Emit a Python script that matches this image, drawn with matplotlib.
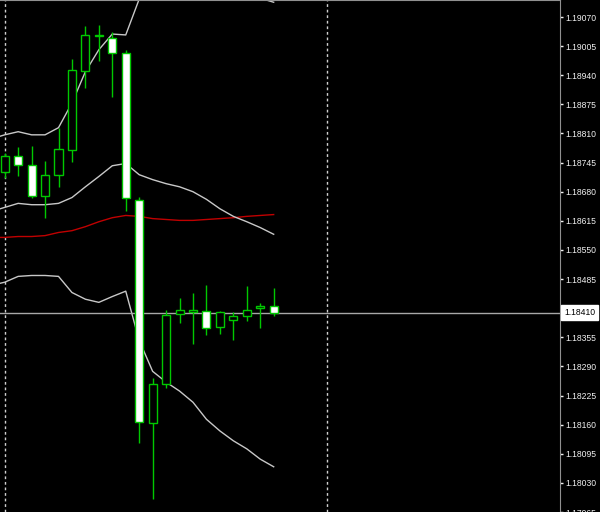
import matplotlib
matplotlib.use("Agg")
import matplotlib.pyplot as plt
from matplotlib.patches import Rectangle
import numpy as np

# ---- data (EURUSD-like hourly candles) ----
opens  = [1.18723, 1.18760, 1.18740, 1.18671, 1.18718, 1.18774, 1.18950, 1.19028, 1.19023, 1.18990,
          1.18662, 1.18164, 1.18250, 1.18406, 1.18411, 1.18413, 1.18377, 1.18393, 1.18402, 1.18420, 1.18424]
highs  = [1.18767, 1.18780, 1.18783, 1.18749, 1.18823, 1.18976, 1.19050, 1.19052, 1.19037, 1.18997,
          1.18669, 1.18264, 1.18417, 1.18442, 1.18453, 1.18471, 1.18413, 1.18411, 1.18469, 1.18431, 1.18466]
lows   = [1.18711, 1.18714, 1.18665, 1.18622, 1.18691, 1.18747, 1.18912, 1.18972, 1.18892, 1.18638,
          1.18119, 1.17994, 1.18242, 1.18386, 1.18340, 1.18360, 1.18362, 1.18348, 1.18391, 1.18375, 1.18402]
closes = [1.18760, 1.18740, 1.18671, 1.18718, 1.18776, 1.18952, 1.19030, 1.19030, 1.18990, 1.18665,
          1.18166, 1.18250, 1.18404, 1.18415, 1.18415, 1.18375, 1.18411, 1.18402, 1.18417, 1.18424, 1.18410]

# indicator values start one bar before the first visible candle (index -1)
bb_upper = [1.18798, 1.18807, 1.18814, 1.18807, 1.18807, 1.18823, 1.18878, 1.18948, 1.18997, 1.19032, 1.19030,
            1.19110, 1.19143, 1.19137, 1.19148, 1.19150, 1.19152, 1.19139, 1.19126, 1.19121, 1.19112, 1.19103]
bb_middle = [1.18636, 1.18645, 1.18654, 1.18651, 1.18651, 1.18654, 1.18667, 1.18691, 1.18714, 1.18738, 1.18743,
             1.18718, 1.18707, 1.18698, 1.18691, 1.18680, 1.18663, 1.18642, 1.18625, 1.18613, 1.18600, 1.18585]
bb_lower = [1.18471, 1.18478, 1.18491, 1.18493, 1.18493, 1.18491, 1.18455, 1.18440, 1.18433, 1.18446, 1.18458,
            1.18348, 1.18279, 1.18255, 1.18235, 1.18210, 1.18172, 1.18146, 1.18124, 1.18106, 1.18083, 1.18066]
ma_red = [1.18578, 1.18578, 1.18580, 1.18580, 1.18582, 1.18589, 1.18593, 1.18602, 1.18613, 1.18622, 1.18627,
          1.18625, 1.18620, 1.18618, 1.18616, 1.18616, 1.18618, 1.18620, 1.18622, 1.18625, 1.18627, 1.18629]

bid_price = 1.18410
separators = [0, 24]
tick_start, tick_step, n_ticks = 1.17965, 0.00065, 18

# ---- figure ----
W, H = 600, 512
fig = plt.figure(figsize=(W / 100, H / 100), dpi=100, facecolor="black")
ax = fig.add_axes([0, 0, 560 / W, 1])
ax.set_facecolor("black")

green = "#00c800"
n = len(opens)
idx = np.arange(n)
ind_idx = np.arange(-1, n)

# separators
for s in separators:
    ax.axvline(s, color="#d0d0d0", lw=1, ls=(0, (2, 2)), zorder=1)

# indicators
ax.plot(ind_idx, ma_red, color="#c00000", lw=1, zorder=2)
for band in (bb_upper, bb_middle, bb_lower):
    ax.plot(ind_idx, band, color="#c8c8c8", lw=1, zorder=2)

# bid line
ax.axhline(bid_price, color="#a8a8a8", lw=1, zorder=2)

# candles
bw = 0.6
for i in idx:
    o, h, l, c = opens[i], highs[i], lows[i], closes[i]
    ax.plot([i, i], [l, h], color=green, lw=1, zorder=3, solid_capstyle="butt")
    bottom = min(o, c)
    height = max(abs(c - o), 1e-6)
    face = "black" if c >= o else "white"
    ax.add_patch(Rectangle((i - bw / 2, bottom), bw, height, facecolor=face,
                           edgecolor=green, lw=1, zorder=4))

# limits (pixel-calibrated)
ax.set_xlim(-0.35, 41.29)
ax.set_ylim(1.17968, 1.19108)

# axis styling
for side in ("left", "bottom"):
    ax.spines[side].set_visible(False)
ax.spines["right"].set_color("#909090")
ax.spines["top"].set_color("#909090")
ax.set_xticks([])
ticks = [round(tick_start + k * tick_step, 5) for k in range(n_ticks)]
ax.yaxis.tick_right()
ax.set_yticks(ticks)
ax.set_yticklabels([f"{t:.5f}" for t in ticks])
ax.tick_params(axis="y", colors="#f0f0f0", length=2, width=1, pad=2,
               labelsize=6.2, direction="out")
for lab in ax.get_yticklabels():
    lab.set_fontfamily("Liberation Sans")
    lab.set_color("#f0f0f0")

# bid label
ax.annotate(f"{bid_price:.5f}", xy=(1.0, bid_price), xycoords=("axes fraction", "data"),
            xytext=(3, 0), textcoords="offset points", va="center", ha="left",
            fontsize=6.2, family="Liberation Sans", color="black",
            bbox=dict(boxstyle="square,pad=0.35", facecolor="white", edgecolor="white"),
            annotation_clip=False, zorder=10)

fig.savefig("out.png", dpi=100, facecolor="black")
